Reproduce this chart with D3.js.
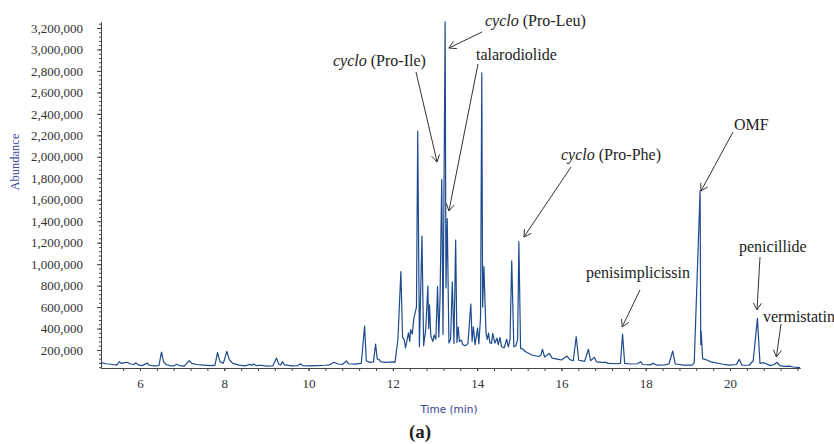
<!DOCTYPE html>
<html>
<head>
<meta charset="utf-8">
<script src="https://cdn.jsdelivr.net/npm/d3@7"></script>
<style>
  body { margin: 0; background: #fff; }
  svg { display: block; }
  .serif { font-family: "Liberation Serif", "Times New Roman", Times, "DejaVu Serif", serif; }
</style>
</head>
<body>
<svg id="chrom" width="834" height="444"></svg>
<script>
// retention time (min) and abundance
const times = [
  5.07, 5.2, 5.35, 5.45, 5.51, 5.56, 5.62, 5.69, 5.78, 5.85, 5.9, 5.96, 6.05, 6.17, 6.22, 6.35, 6.45, 6.51, 6.56, 6.62,
  6.7, 6.8, 6.87, 6.93, 7.05, 7.17, 7.23, 7.35, 7.5, 7.7, 7.78, 7.84, 7.9, 7.98, 8.06, 8.12, 8.2, 8.35, 8.5, 8.61,
  8.65, 8.69, 8.75, 8.88, 9.0, 9.15, 9.24, 9.29, 9.34, 9.38, 9.43, 9.6, 9.75, 9.81, 9.86, 10.0, 10.2, 10.4, 10.5, 10.6,
  10.7, 10.8, 10.9, 10.95, 11.1, 11.25, 11.33, 11.37, 11.45, 11.54, 11.59, 11.63, 11.67, 11.72, 11.85, 12.0, 12.05,
  12.12, 12.19, 12.23, 12.27, 12.3, 12.34, 12.37, 12.4, 12.42, 12.46, 12.5, 12.56, 12.59, 12.63, 12.69, 12.73, 12.78,
  12.83, 12.85, 12.87, 12.9, 12.95, 12.98, 13.02, 13.06, 13.09, 13.12, 13.16, 13.19, 13.24, 13.26, 13.29, 13.33, 13.37,
  13.41, 13.45, 13.49, 13.52, 13.55, 13.58, 13.62, 13.66, 13.72, 13.78, 13.85, 13.88, 13.91, 13.95, 14.01, 14.04, 14.08,
  14.11, 14.13, 14.16, 14.21, 14.24, 14.27, 14.3, 14.34, 14.37, 14.42, 14.47, 14.5, 14.54, 14.58, 14.64, 14.7, 14.74,
  14.78, 14.82, 14.87, 14.92, 14.96, 14.99, 15.03, 15.08, 15.15, 15.3, 15.45, 15.51, 15.55, 15.6, 15.71, 15.78, 15.9,
  16.0, 16.13, 16.2, 16.28, 16.35, 16.41, 16.55, 16.64, 16.69, 16.78, 16.83, 16.95, 17.06, 17.1, 17.3, 17.4, 17.45,
  17.5, 17.65, 17.8, 17.88, 17.93, 18.1, 18.18, 18.25, 18.45, 18.55, 18.64, 18.7, 18.9, 19.1, 19.15, 19.29, 19.305,
  19.315, 19.35, 19.45, 19.55, 19.8, 19.98, 20.15, 20.22, 20.28, 20.45, 20.55, 20.65, 20.71, 20.8, 20.95, 21.05, 21.11,
  21.18, 21.3, 21.41, 21.5, 21.66
];
const abundance = [
  82000, 72000, 65000, 60000, 92000, 75000, 80000, 86000, 70000, 65000, 80000, 62000, 55000, 78000, 58000, 52000, 55000, 180000, 90000, 65000,
  55000, 52000, 68000, 55000, 50000, 102000, 75000, 65000, 60000, 55000, 60000, 178000, 90000, 78000, 188000, 110000, 75000, 60000, 52000, 68000,
  55000, 70000, 55000, 58000, 50000, 52000, 125000, 70000, 60000, 92000, 62000, 52000, 55000, 72000, 55000, 52000, 55000, 58000, 62000, 86000,
  70000, 65000, 98000, 72000, 68000, 75000, 424000, 100000, 85000, 90000, 256000, 115000, 112000, 90000, 85000, 90000, 85000,
  300000, 930000, 320000, 295000, 220000, 300000, 360000, 280000, 390000, 350000, 500000, 600000, 2240000, 230000, 1262000, 240000, 400000,
  796000, 400000, 620000, 330000, 280000, 340000, 300000, 790000, 320000, 700000, 1790000, 345000, 3258000, 778000, 1425000, 265000, 300000,
  836000, 260000, 1225000, 270000, 417000, 280000, 293000, 250000, 240000, 260000, 629000, 280000, 417000, 250000, 405000, 260000, 500000,
  2783000, 600000, 976000, 358000, 300000, 358000, 270000, 260000, 356000, 265000, 310000, 250000, 318000, 230000, 220000, 300000, 230000,
  300000, 1030000, 231000, 240000, 300000, 1210000, 216000, 210000, 184000, 154000, 140000, 150000, 207000, 135000, 169000, 125000, 115000,
  107000, 144000, 110000, 100000, 324000, 105000, 95000, 207000, 100000, 132000, 90000, 85000, 86000, 75000, 72000, 75000, 349000,
  76000, 70000, 72000, 91000, 65000, 62000, 76000, 60000, 62000, 70000, 191000, 70000, 60000, 60000, 80000, 1685000, 250000,
  375000, 120000, 107000, 90000, 70000, 60000, 65000, 113000, 60000, 58000, 100000, 495000, 76000, 82000, 55000, 65000, 86000,
  55000, 48000, 50000, 42000, 36000
];

const yTickValues = d3.range(200000, 3200001, 200000);
const xTickValues = [6, 8, 10, 12, 14, 16, 18, 20];

// compounds pointed at: name (italic part + rest) and the point the arrow touches
const compounds = [
  { italic: "cyclo", rest: " (Pro-Leu)", t: 13.33, v: 3013000 },
  { italic: "cyclo", rest: " (Pro-Ile)", t: 13.05, v: 1951000 },
  { italic: "", rest: "talarodiolide", t: 13.33, v: 1495000 },
  { italic: "cyclo", rest: " (Pro-Phe)", t: 15.11, v: 1253000 },
  { italic: "", rest: "OMF", t: 19.31, v: 1681000 },
  { italic: "", rest: "penisimplicissin", t: 17.44, v: 415000 },
  { italic: "", rest: "penicillide", t: 20.64, v: 573000 },
  { italic: "", rest: "vermistatin", t: 21.1, v: 135000 }
];
// label text position and arrow tail, pixels
const labelLayout = [
  { tx: 485, ty: 26, ax: 482, ay: 32 },
  { tx: 333, ty: 66, ax: 416, ay: 72 },
  { tx: 476, ty: 60, ax: 478, ay: 64 },
  { tx: 561, ty: 160, ax: 571, ay: 167 },
  { tx: 734, ty: 130, ax: 733, ay: 132 },
  { tx: 586, ty: 278, ax: 640, ay: 290 },
  { tx: 739, ty: 252, ax: 760, ay: 257 },
  { tx: 763, ty: 322, ax: 781, ay: 324 }
];

const svg = d3.select("svg#chrom");
const margin = { top: 22, right: 34, bottom: 76, left: 101 };
const width = 834, height = 444;

// SCALES
const xScale = d3.scaleLinear()
  .domain([5.075, 21.66])
  .range([margin.left, width - margin.right]);

const yScale = d3.scaleLinear()
  .domain([32600, 3255600])
  .range([height - margin.bottom, margin.top]);

// AXES
const yMinor = d3.range(40000, 3255600, 40000);
svg.append("g")
  .attr("transform", `translate(${margin.left},0)`)
  .call(d3.axisLeft(yScale).tickValues(yMinor).tickSize(2).tickFormat("").tickSizeOuter(0));

svg.append("g")
  .attr("class", "serif")
  .attr("transform", `translate(${margin.left},0)`)
  .call(d3.axisLeft(yScale).tickValues(yTickValues).tickSize(4).tickPadding(14)
    .tickFormat(d3.format(",")).tickSizeOuter(0))
  .attr("font-family", null);

const xMinor = d3.range(14, 55).map(i => +(i * 0.4).toFixed(1)).filter(d => d > 5.075 && d < 21.66);
svg.append("g")
  .attr("transform", `translate(0,${height - margin.bottom})`)
  .call(d3.axisBottom(xScale).tickValues(xMinor).tickSize(3).tickFormat("").tickSizeOuter(0));

svg.append("g")
  .attr("class", "serif")
  .attr("transform", `translate(0,${height - margin.bottom})`)
  .call(d3.axisBottom(xScale).tickValues(xTickValues).tickSize(3).tickPadding(8).tickSizeOuter(0))
  .attr("font-family", null);

svg.selectAll(".domain").attr("stroke", "#444");
svg.selectAll(".tick line").attr("stroke", "#444");
svg.selectAll(".tick text")
  .attr("font-size", 13)
  .attr("fill", "#333");

// LINE
const line = d3.line()
  .x((d, i) => xScale(times[i]))
  .y(d => yScale(d));

svg.append("path")
  .datum(abundance)
  .attr("fill", "none")
  .attr("stroke", "#1d4b8d")
  .attr("stroke-width", 1.2)
  .attr("stroke-linejoin", "round")
  .attr("d", line);

// AXIS TITLES
svg.append("text")
  .attr("class", "serif")
  .attr("transform", "translate(19,162) rotate(-90)")
  .attr("text-anchor", "middle")
  .attr("font-size", 12.5)
  .attr("fill", "#3b4d9c")
  .text("Abundance");

svg.append("text")
  .attr("x", 449).attr("y", 413)
  .attr("text-anchor", "middle")
  .attr("font-family", "'DejaVu Sans', Verdana, sans-serif")
  .attr("font-size", 10.5)
  .attr("fill", "#3a418f")
  .text("Time (min)");

svg.append("text")
  .attr("class", "serif")
  .attr("x", 420).attr("y", 438)
  .attr("text-anchor", "middle")
  .attr("font-weight", "bold")
  .attr("font-size", 19)
  .attr("fill", "#222")
  .text("(a)");

// ANNOTATIONS
const ann = svg.append("g");
compounds.forEach((c, i) => {
  const l = labelLayout[i];
  const txt = ann.append("text")
    .attr("class", "serif")
    .attr("x", l.tx).attr("y", l.ty)
    .attr("font-size", 16)
    .attr("fill", "#222");
  if (c.italic) txt.append("tspan").attr("font-style", "italic").text(c.italic);
  txt.append("tspan").text(c.rest);

  const x2 = xScale(c.t), y2 = yScale(c.v);
  const ang = Math.atan2(y2 - l.ay, x2 - l.ax);
  const head = 8, spread = Math.PI / 6;
  const p = d3.path();
  p.moveTo(l.ax, l.ay);
  p.lineTo(x2, y2);
  p.moveTo(x2 - head * Math.cos(ang - spread), y2 - head * Math.sin(ang - spread));
  p.lineTo(x2, y2);
  p.lineTo(x2 - head * Math.cos(ang + spread), y2 - head * Math.sin(ang + spread));
  ann.append("path")
    .attr("d", p.toString())
    .attr("fill", "none")
    .attr("stroke", "#333")
    .attr("stroke-width", 1);
});
</script>
</body>
</html>
